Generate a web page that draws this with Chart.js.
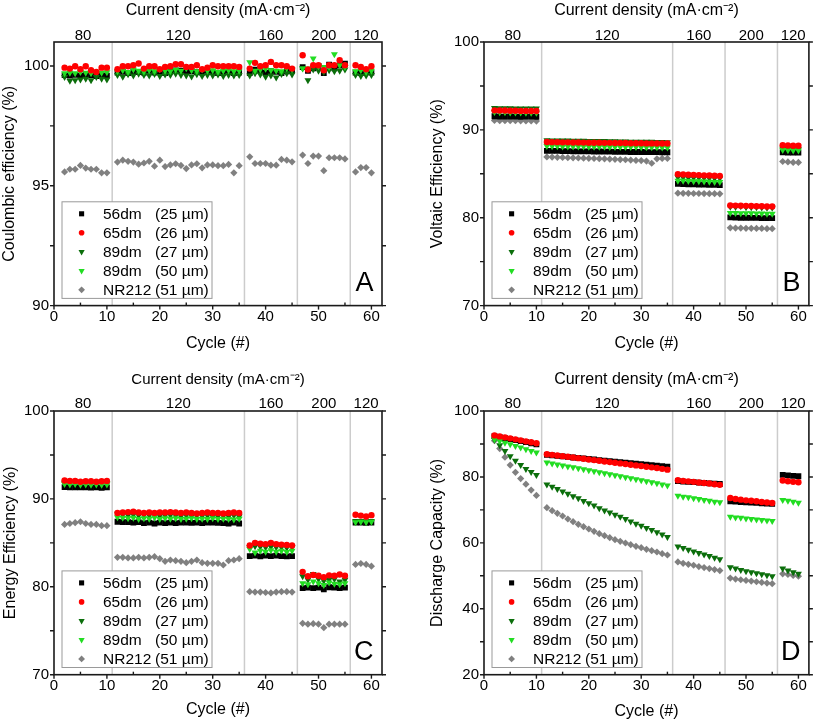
<!DOCTYPE html>
<html><head><meta charset="utf-8">
<script src="https://cdn.jsdelivr.net/npm/chart.js@4.4.1/dist/chart.umd.min.js"></script>
<style>
html,body{margin:0;padding:0;background:#fff;width:813px;height:722px;overflow:hidden}
canvas{position:absolute}
</style></head><body>
<canvas id="cA" width="406" height="361" style="left:0px;top:0px"></canvas>
<canvas id="cB" width="385" height="361" style="left:428px;top:0px"></canvas>
<canvas id="cC" width="406" height="361" style="left:0px;top:361px"></canvas>
<canvas id="cD" width="385" height="361" style="left:428px;top:361px"></canvas>
<script>
// ---------------- DATA ----------------
const CYCLES = [2,3,4,5,6,7,8,9,10,
  12,13,14,15,16,17,18,19,20,21,22,23,24,25,26,27,28,29,30,31,32,33,34,35,
  37,38,39,40,41,42,43,44,45,
  47,48,49,50,51,52,53,54,55,
  57,58,59,60];
const SEGMENT_BOUNDS = [11, 36, 46, 56];
const DENSITY_POS = [5.5, 23.5, 41, 51, 59];
const DENSITY_LABELS = ['80', '120', '160', '200', '120'];
const X_TICKS = [0, 10, 20, 30, 40, 50, 60];
const SERIES_NAMES = ['56dm', '65dm', '89dm', '89dm', 'NR212'];
const SERIES_THICK = ['(25 µm)', '(26 µm)', '(27 µm)', '(50 µm)', '(51 µm)'];

// A: Coulombic efficiency
const A_56DM = [99.62,99.60,99.63,99.60,99.64,99.62,99.58,99.62,99.60,
  99.72,99.75,99.70,99.78, 99.74,99.72,99.80,99.72, 99.75,99.70,99.78,99.82, 99.80,99.75,99.78,99.74, 99.72,99.76,99.74,99.70, 99.72,99.74,99.70,99.72,
  99.70,99.85,99.80,99.72,99.78,99.75,99.70,99.78,99.80,
  99.95,99.80,99.90,100.00,99.70,100.05,99.90,100.02,100.10,
  99.72,99.70,99.75,99.72];
const A_65DM = [99.93,99.89,99.99,99.86,99.99,99.82,99.75,99.93,99.93,
  99.86,99.99,99.99,100.03, 100.10,99.89,99.99,99.99, 99.86,99.96,99.99,100.07, 100.07,99.96,99.96,100.03, 99.86,99.93,100.03,99.99, 99.99,99.99,99.99,99.96,
  99.89,100.13,99.99,100.03,100.17,100.03,100.03,99.99,99.89,
  100.45,99.85,100.03,100.03,99.82,100.03,100.03,100.24,100.03,
  100.03,99.96,99.86,99.99];
const A_89DM27 = [99.54,99.38,99.40,99.43,99.47,99.40,99.54,99.47,99.43,
  99.62,99.55,99.65,99.60, 99.68,99.62,99.60,99.66, 99.58,99.64,99.62,99.68, 99.62,99.60,99.56,99.65, 99.58,99.62,99.60,99.64, 99.58,99.62,99.60,99.62,
  99.60,99.70,99.64,99.55,99.60,99.52,99.66,99.70,99.64,
  99.90,99.40,99.85,99.80,99.75,99.82,99.78,99.80,99.85,
  99.62,99.58,99.60,99.62];
const A_89DM50 = [99.70,99.72,99.70,99.75,99.72,99.70,99.76,99.72,99.74,
  99.78,99.82,99.75,99.85, 99.80,99.76,99.82,99.78, 99.86,99.80,99.78,99.84, 99.80,99.90,99.82,99.78, 99.85,99.80,99.82,99.76, 99.80,99.82,99.78,99.80,
  100.15,99.80,99.85,99.88,99.82,99.80,99.78,99.90,99.85,
  99.89,99.89,100.31,99.99,99.96,99.96,100.49,100.03,99.96,
  99.78,99.82,99.75,99.80];
const A_NR212 = [95.58,95.69,95.69,95.85,95.74,95.69,95.69,95.54,95.54,
  95.99,96.07,96.02,95.99, 95.90,95.95,96.02,95.82, 96.07,95.80,95.87,95.92, 95.85,95.72,95.87,95.92, 95.75,95.87,95.87,95.84, 95.84,95.89,95.54,95.84,
  96.21,95.93,95.93,95.93,95.86,95.86,96.10,96.07,96.00,
  96.28,95.93,96.24,96.24,95.63,96.17,96.17,96.17,96.12,
  95.58,95.76,95.76,95.54];

// B: Voltaic efficiency
const B_56DM = [91.55,91.50,91.50,91.52,91.50,91.48,91.50,91.50,91.48,
  87.62,87.60,87.60,87.58, 87.58,87.56,87.56,87.55, 87.55,87.54,87.54,87.52, 87.52,87.50,87.50,87.50, 87.48,87.48,87.48,87.46, 87.46,87.46,87.45,87.45,
  83.85,83.82,83.80,83.80,83.78,83.76,83.75,83.74,83.72,
  80.05,80.02,80.00,80.00,79.98,79.98,79.96,79.96,79.95,
  87.45,87.42,87.40,87.40];
const B_65DM = [92.22,92.20,92.20,92.18,92.18,92.16,92.16,92.15,92.15,
  88.62,88.60,88.60,88.58, 88.58,88.56,88.56,88.55, 88.54,88.54,88.53,88.52, 88.52,88.50,88.50,88.50, 88.48,88.48,88.47,88.46, 88.46,88.45,88.45,88.45,
  84.95,84.92,84.90,84.88,84.85,84.82,84.80,84.78,84.75,
  81.40,81.38,81.36,81.35,81.33,81.32,81.30,81.28,81.27,
  88.25,88.22,88.20,88.20];
const B_89DM27 = [92.48,92.46,92.45,92.45,92.44,92.43,92.43,92.42,92.42,
  88.82,88.80,88.80,88.78, 88.78,88.76,88.76,88.75, 88.74,88.74,88.72,88.72, 88.70,88.70,88.68,88.68, 88.66,88.66,88.65,88.64, 88.64,88.62,88.62,88.60,
  84.60,84.58,84.56,84.55,84.54,84.52,84.50,84.50,84.48,
  81.25,81.22,81.30,81.20,81.18,81.18,81.16,81.15,81.15,
  87.85,87.82,87.80,87.80];
const B_89DM50 = [92.02,92.00,92.00,91.98,91.98,91.97,91.96,91.96,91.95,
  88.15,88.14,88.13,88.12, 88.12,88.11,88.10,88.10, 88.09,88.08,88.08,88.07, 88.06,88.06,88.05,88.05, 88.04,88.04,88.03,88.02, 88.02,88.01,88.00,88.00,
  84.22,84.20,84.18,84.16,84.14,84.12,84.10,84.08,84.06,
  80.55,80.54,80.52,80.51,80.50,80.49,80.48,80.46,80.45,
  87.70,87.68,87.66,87.65];
const B_NR212 = [91.08,91.05,91.05,91.04,91.04,91.03,91.02,91.02,91.00,
  86.92,86.90,86.88,86.86, 86.84,86.82,86.80,86.78, 86.76,86.74,86.72,86.70, 86.68,86.65,86.62,86.60, 86.56,86.52,86.50,86.45, 86.20,86.70,86.75,86.75,
  82.80,82.78,82.78,82.76,82.76,82.75,82.74,82.74,82.72,
  78.85,78.82,78.82,78.80,78.80,78.78,78.78,78.76,78.76,
  86.40,86.35,86.30,86.30];

// C: Energy efficiency
const C_56DM = [91.35,91.30,91.30,91.32,91.30,91.28,91.30,91.25,91.30,
  87.40,87.35,87.35,87.30, 87.35,87.25,87.30,87.20, 87.30,87.25,87.30,87.25, 87.30,87.30,87.28,87.30, 87.25,87.30,87.30,87.28, 87.25,87.20,87.30,87.20,
  83.50,83.55,83.45,83.55,83.50,83.55,83.50,83.45,83.50,
  79.85,79.90,79.85,79.90,79.70,79.95,79.90,79.85,79.90,
  87.30,87.30,87.28,87.30];
const C_65DM = [92.10,92.05,92.05,91.95,92.00,92.00,91.95,92.00,92.05,
  88.40,88.45,88.50,88.55, 88.45,88.40,88.45,88.40, 88.45,88.45,88.50,88.45, 88.40,88.45,88.40,88.35, 88.40,88.45,88.40,88.40, 88.35,88.40,88.45,88.40,
  84.70,85.00,84.90,84.85,85.00,84.85,84.80,84.75,84.70,
  81.70,81.20,81.35,81.25,81.10,81.30,81.25,81.40,81.25,
  88.20,88.10,88.00,88.15];
const C_89DM27 = [91.85,91.80,91.80,91.75,91.80,91.75,91.75,91.80,91.80,
  88.30,88.20,88.15,88.20, 88.10,88.15,88.10,88.15, 88.05,88.10,88.15,88.10, 88.05,88.10,88.05,88.10, 88.05,88.10,88.00,88.05, 88.05,88.00,88.10,88.00,
  84.50,84.60,84.55,84.50,84.55,84.50,84.50,84.45,84.50,
  81.20,80.80,81.45,80.90,80.70,80.80,80.90,80.60,80.80,
  87.50,87.50,87.45,87.50];
const C_89DM50 = [91.70,91.65,91.70,91.60,91.65,91.60,91.65,91.60,91.65,
  87.90,87.85,87.80,87.85, 87.70,87.80,87.75,87.85, 87.70,87.80,87.75,87.80, 87.70,87.75,87.80,87.70, 87.75,87.70,87.80,87.70, 87.75,87.70,87.65,87.75,
  84.30,83.90,84.10,84.00,84.15,84.00,84.10,83.95,84.10,
  80.40,80.30,80.60,80.40,80.20,80.50,80.35,80.30,80.40,
  87.35,87.40,87.35,87.40];
const C_NR212 = [87.10,87.20,87.30,87.40,87.20,87.10,87.10,86.95,86.95,
  83.35,83.35,83.28,83.28, 83.35,83.28,83.35,83.43, 83.20,82.90,83.05,82.97, 82.90,82.75,82.90,83.05, 82.75,82.67,82.67,82.67, 82.48,82.97,83.05,83.20,
  79.45,79.40,79.40,79.35,79.30,79.40,79.45,79.45,79.40,
  75.85,75.75,75.80,75.75,75.35,75.75,75.75,75.75,75.75,
  82.55,82.65,82.55,82.35];

// D: Discharge capacity
const D_56DM = [92.40,92.10,91.80,91.50,91.20,90.90,90.60,90.20,89.90,
  86.70,86.55,86.40,86.25, 86.10,85.90,85.75,85.60, 85.45,85.30,85.10,84.95, 84.80,84.65,84.50,84.30, 84.15,84.00,83.85,83.70, 83.55,83.40,83.25,83.10,
  78.70,78.60,78.50,78.40,78.30,78.20,78.05,77.95,77.85,
  72.60,72.50,72.40,72.30,72.20,72.10,72.00,71.90,71.80,
  80.60,80.50,80.30,80.20];
const D_65DM = [92.60,92.30,92.00,91.70,91.40,91.10,90.80,90.50,90.20,
  86.90,86.70,86.50,86.30, 86.10,85.90,85.70,85.50, 85.30,85.10,84.90,84.70, 84.50,84.30,84.10,83.90, 83.70,83.50,83.30,83.10, 82.90,82.70,82.45,82.20,
  79.00,78.80,78.65,78.50,78.30,78.15,78.00,77.80,77.60,
  73.60,73.30,73.10,72.90,72.75,72.60,72.40,72.25,72.10,
  78.90,78.70,78.50,78.40];
const D_89DM27 = [91.30,89.60,87.90,86.30,84.90,83.60,82.40,81.50,80.60,
  77.70,77.00,76.30,75.60, 74.90,74.10,73.50,72.70, 72.00,71.30,70.50,69.80, 69.20,68.50,67.90,67.20, 66.50,65.80,65.20,64.50, 63.90,63.20,62.50,61.80,
  58.90,58.40,57.90,57.40,56.90,56.50,56.00,55.50,55.00,
  52.60,52.20,51.80,51.40,51.10,50.80,50.50,50.20,49.90,
  52.20,51.60,51.10,50.60];
const D_89DM50 = [91.40,90.90,90.40,89.90,89.40,88.90,88.40,87.90,87.40,
  84.40,84.10,83.80,83.50, 83.20,82.90,82.60,82.30, 82.00,81.70,81.40,81.10, 80.80,80.50,80.20,79.90, 79.60,79.30,79.00,78.70, 78.40,78.10,77.70,77.40,
  74.30,74.00,73.80,73.50,73.30,73.00,72.80,72.50,72.30,
  67.90,67.70,67.60,67.40,67.20,67.10,66.90,66.80,66.60,
  73.00,72.80,72.50,72.20];
const D_NR212 = [91.00,88.60,86.00,83.60,81.40,79.50,77.80,76.00,74.40,
  70.67,69.76,68.95,68.14, 67.23,66.42,65.61,64.91, 64.20,63.49,62.78,62.18, 61.57,60.96,60.46,59.95, 59.45,58.94,58.54,58.03, 57.63,57.22,56.72,56.31,
  54.20,53.80,53.50,53.20,52.80,52.50,52.20,51.90,51.60,
  49.30,49.00,48.80,48.60,48.40,48.20,48.00,47.80,47.60,
  50.60,50.40,50.10,49.90];

// ---------------- STYLE ----------------
const FONT = '"Liberation Sans", Arial, Helvetica, sans-serif';
const STYLES = [
  {color:'#000000', pointStyle:'rect', rotation:0, radius:4.1, order:3, lr:3.6},
  {color:'#ff0000', pointStyle:'circle', rotation:0, radius:3.2, order:0, lr:2.8},
  {color:'#0b6e0b', pointStyle:'triangle', rotation:180, radius:4.0, order:2, lr:3.6},
  {color:'#22dd22', pointStyle:'triangle', rotation:180, radius:4.0, order:1, lr:3.6},
  {color:'#808080', pointStyle:'rectRot', rotation:0, radius:3.6, order:4, lr:3.4}
];

const framePlugin = {
  id: 'frame',
  beforeDatasetsDraw(chart) {
    const {ctx, chartArea: a, scales: {x}} = chart;
    ctx.save();
    ctx.strokeStyle = '#cccccc';
    ctx.lineWidth = 1.5;
    SEGMENT_BOUNDS.forEach(v => {
      const px = x.getPixelForValue(v);
      ctx.beginPath(); ctx.moveTo(px, a.top); ctx.lineTo(px, a.bottom); ctx.stroke();
    });
    ctx.restore();
  },
  afterDraw(chart, args, opts) {
    const {ctx, chartArea: a, scales: {x, y}} = chart;
    ctx.save();
    ctx.strokeStyle = '#1a1a1a';
    ctx.lineWidth = 1.6;
    ctx.strokeRect(a.left, a.top, a.right - a.left, a.bottom - a.top);
    ctx.lineWidth = 1.4;
    // y ticks, major and minor, outward both sides
    const yv = y.ticks.map(t => t.value);
    const ym = [];
    for (let i = 0; i < yv.length - 1; i++) ym.push((yv[i] + yv[i + 1]) / 2);
    [...yv, ...ym].forEach(v => {
      const py = y.getPixelForValue(v);
      ctx.beginPath();
      ctx.moveTo(a.left - 4, py); ctx.lineTo(a.left, py);
      ctx.moveTo(a.right, py); ctx.lineTo(a.right + 4, py);
      ctx.stroke();
    });
    const xv = x.ticks.map(t => t.value);
    xv.forEach(v => {
      const px = x.getPixelForValue(v);
      ctx.beginPath(); ctx.moveTo(px, a.bottom); ctx.lineTo(px, a.bottom + 4); ctx.stroke();
    });
    for (let i = 0; i < xv.length - 1; i++) {
      const px = x.getPixelForValue((xv[i] + xv[i + 1]) / 2);
      ctx.beginPath(); ctx.moveTo(px, a.bottom); ctx.lineTo(px, a.bottom - 3); ctx.stroke();
    }
    // legend
    const bx = a.left + 8, bw = 150, bh = 96.6, by = a.bottom - 7.2 - bh;
    ctx.fillStyle = '#ffffff';
    ctx.fillRect(bx, by, bw, bh);
    ctx.strokeStyle = '#9a9a9a';
    ctx.lineWidth = 1;
    ctx.strokeRect(bx, by, bw, bh);
    ctx.font = '15.5px ' + FONT;
    ctx.textBaseline = 'middle';
    ctx.textAlign = 'left';
    SERIES_NAMES.forEach((name, i) => {
      const cy = by + 12 + i * 19;
      const st = STYLES[i];
      ctx.fillStyle = st.color;
      Chart.helpers.drawPoint(ctx, {pointStyle: st.pointStyle, rotation: st.rotation, radius: st.lr, borderWidth: 0}, bx + 19.6, cy);
      ctx.fillStyle = '#000';
      ctx.fillText(name, bx + 41, cy + 0.5);
      ctx.fillText(SERIES_THICK[i], bx + 93, cy + 0.5);
    });
    // panel letter
    ctx.font = '27px ' + FONT;
    ctx.textAlign = 'right';
    ctx.textBaseline = 'alphabetic';
    ctx.fillStyle = '#000';
    ctx.fillText(opts.letter, a.right - 8.5, a.bottom - 15);
    ctx.restore();
  }
};

function makePanel(id, g, yMin, yMax, yTicks, yTitle, series, letter) {
  const datasets = series.map((vals, i) => ({
    label: SERIES_NAMES[i] + ' ' + SERIES_THICK[i],
    data: CYCLES.map((c, k) => ({x: c, y: vals[k]})),
    pointStyle: STYLES[i].pointStyle,
    rotation: STYLES[i].rotation,
    pointRadius: STYLES[i].radius,
    pointHoverRadius: STYLES[i].radius,
    backgroundColor: STYLES[i].color,
    borderColor: STYLES[i].color,
    borderWidth: 0,
    showLine: false,
    order: STYLES[i].order
  }));
  const tickFont = {family: FONT, size: 15};
  new Chart(document.getElementById(id), {
    type: 'scatter',
    data: {datasets},
    options: {
      responsive: false,
      animation: false,
      devicePixelRatio: 1,
      layout: {padding: {left: 0, top: 0, right: g.padR, bottom: g.padB}},
      plugins: {legend: {display: false}, tooltip: {enabled: false}, frame: {letter}},
      scales: {
        x: {
          type: 'linear', position: 'bottom', min: 0, max: 62,
          afterBuildTicks: s => { s.ticks = X_TICKS.map(v => ({value: v})); },
          afterFit: s => { s.height = g.xH; },
          grid: {display: false, drawTicks: false}, border: {display: false},
          ticks: {font: tickFont, color: '#000', padding: g.xPad, maxRotation: 0, autoSkip: false},
          title: {display: true, text: 'Cycle (#)', font: {family: FONT, size: 16}, color: '#000', padding: 0}
        },
        top: {
          type: 'linear', axis: 'x', position: 'top', min: 0, max: 62,
          afterBuildTicks: s => { s.ticks = DENSITY_POS.map(v => ({value: v})); },
          afterFit: s => { s.height = g.T; },
          grid: {display: false, drawTicks: false}, border: {display: false},
          ticks: {font: tickFont, color: '#000', padding: g.topPad, maxRotation: 0, autoSkip: false,
                  callback: (v, i) => DENSITY_LABELS[i]},
          title: {display: true, text: 'Current density (mA·cm⁻²)', font: {family: FONT, size: g.topFont}, color: '#000',
                  padding: {top: g.topTitlePad, bottom: 0}}
        },
        y: {
          type: 'linear', position: 'left', min: yMin, max: yMax,
          afterBuildTicks: s => { s.ticks = yTicks.map(v => ({value: v})); },
          afterFit: s => { s.width = g.L; },
          grid: {display: false, drawTicks: false}, border: {display: false},
          ticks: {font: tickFont, color: '#000', padding: 5},
          title: {display: true, text: yTitle, font: {family: FONT, size: 16}, color: '#000', padding: {top: g.yTitlePad, bottom: 0}}
        }
      }
    },
    plugins: [framePlugin]
  });
}

const Y_TICKS_A = [90, 95, 100];
const Y_TICKS_BC = [70, 80, 90, 100];
const Y_TICKS_D = [20, 40, 60, 80, 100];

makePanel('cA', {L: 54, T: 42, padR: 24, padB: 8.1, xH: 47.3, xPad: 2, topPad: -3, topFont: 16, topTitlePad: 0.5, yTitlePad: 0},
  90, 101, Y_TICKS_A, 'Coulombic efficiency (%)', [A_56DM, A_65DM, A_89DM27, A_89DM50, A_NR212], 'A');
makePanel('cB', {L: 56, T: 42, padR: 3, padB: 8.1, xH: 47.3, xPad: 2, topPad: -3, topFont: 16, topTitlePad: 0.5, yTitlePad: 0},
  70, 100, Y_TICKS_BC, 'Voltaic Efficiency (%)', [B_56DM, B_65DM, B_89DM27, B_89DM50, B_NR212], 'B');
makePanel('cC', {L: 54, T: 50, padR: 24, padB: 2.4, xH: 44.9, xPad: 2, topPad: -2, topFont: 15, topTitlePad: 10, yTitlePad: 0.5},
  70, 100, Y_TICKS_BC, 'Energy Efficiency (%)', [C_56DM, C_65DM, C_89DM27, C_89DM50, C_NR212], 'C');
makePanel('cD', {L: 56, T: 50, padR: 3, padB: 0.7, xH: 46.6, xPad: 2, topPad: -2, topFont: 16, topTitlePad: 9.4, yTitlePad: 0},
  20, 100, Y_TICKS_D, 'Discharge Capacity (%)', [D_56DM, D_65DM, D_89DM27, D_89DM50, D_NR212], 'D');
</script>
</body></html>
